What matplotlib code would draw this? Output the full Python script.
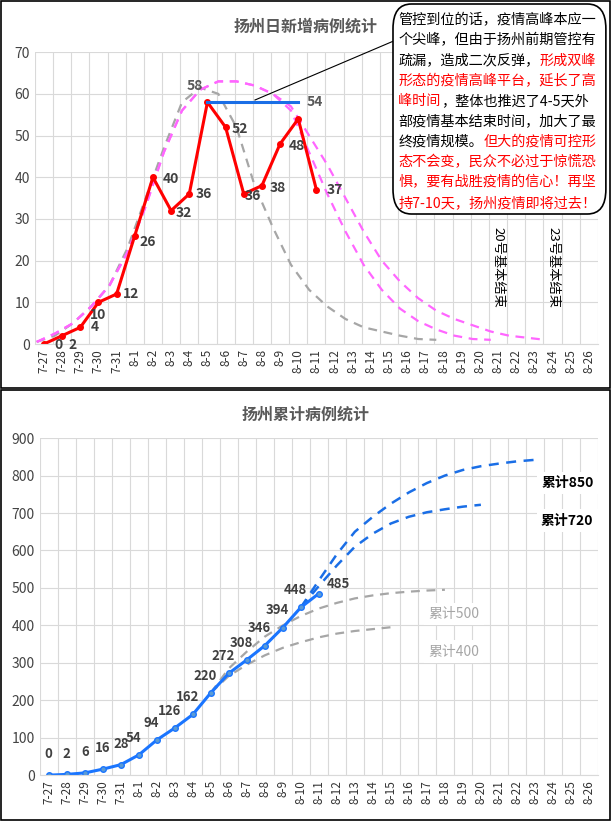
import matplotlib
matplotlib.use("Agg")
import matplotlib.pyplot as plt
from matplotlib.patches import Rectangle, FancyBboxPatch
import numpy as np

plt.rcParams['font.family'] = ['Noto Sans CJK SC', 'DejaVu Sans']

dates = ['7-27','7-28','7-29','7-30','7-31'] + [f'8-{i}' for i in range(1, 27)]
daily = [0,2,4,10,12,26,40,32,36,58,52,36,38,48,54,37]
cumul = [0,2,6,16,28,54,94,126,162,220,272,308,346,394,448,485]
gray_fit = [0.5,2,5,9,14,23,35,47,58,61.5,60,52,38,28,19,13,9,6,4,3,2,1.2,1]
pink_a = [0.5,2.5,5,9,14,22,33,46,56,61,63,63,62,60,56,46,36,27,19,13,8.5,5.5,3.5,2,1.2,1]
pink_b = [0.5,2.5,5,9,14,22,33,46,56,61,63,63,62,60,57,50,43,35,27,20,15,11,8,6,4.5,3,2,1.5,1]
proj850 = [448,520,590,650,690,725,755,780,800,815,825,832,838,842]
proj720 = [448,505,560,610,645,672,690,702,710,717,722]
proj500 = [220,285,330,370,400,425,445,460,472,480,486,490,493,495]
proj400 = [220,265,295,320,340,355,368,378,385,390,395]

fig = plt.figure(figsize=(6.12, 8.22), dpi=100)
fig.patches.append(Rectangle((0.002, 1-388/822), 0.995, 387/822, transform=fig.transFigure,
                             fill=False, ec='black', lw=1.2))
fig.patches.append(Rectangle((0.002, 0.002), 0.995, 430/822, transform=fig.transFigure,
                             fill=False, ec='black', lw=1.2))

def style(ax, ymax, step):
    x = np.arange(len(dates))
    ax.set_xlim(-0.5, len(dates) - 0.5)
    ax.set_ylim(0, ymax)
    ax.set_yticks(np.arange(0, ymax + 1, step))
    ax.set_xticks(x)
    ax.set_xticklabels(dates, rotation=90, fontsize=8.5, color='#333333')
    ax.set_xticks(np.arange(-0.5, len(dates)), minor=True)
    ax.tick_params(which='both', length=0)
    ax.tick_params(axis='y', labelsize=10, colors='#444444')
    ax.grid(which='minor', axis='x', color='#d9d9d9', lw=0.8)
    ax.grid(which='major', axis='y', color='#d9d9d9', lw=0.8)
    for s in ax.spines.values():
        s.set_visible(False)
    ax.spines['bottom'].set_visible(True)
    ax.spines['bottom'].set_color('#d9d9d9')

# ---------- top chart ----------
ax1 = fig.add_axes([0.057, 0.5815, 0.92, 0.355])
style(ax1, 70, 10)
ax1.plot(np.arange(len(gray_fit)) - 0.4, gray_fit, ls='--', color='#a6a6a6', lw=1.6, dashes=(4, 3))
ax1.plot(np.arange(len(pink_a)) - 0.4, pink_a, ls='--', color='#ff66ff', lw=1.6, dashes=(4, 3))
ax1.plot(np.arange(len(pink_b)) - 0.4, pink_b, ls='--', color='#ff66ff', lw=1.6, dashes=(4, 3))
xd = np.arange(len(daily))
ax1.plot(xd, daily, color='#ff0000', lw=2.2, marker='o', ms=4)
ax1.plot([9, 14], [58, 58], color='#1a6ee6', lw=2.2)
offs = {0: (0.8, -0.2), 1: (0.6, -2.2), 2: (0.8, 0), 3: (0.0, -3), 4: (0.8, 0), 5: (0.7, -1.5),
        6: (1.0, -0.5), 7: (0.7, -0.5), 8: (0.8, 0), 9: (-0.7, 4), 10: (0.8, -0.5), 11: (0.5, -0.5),
        12: (0.9, -0.5), 13: (0.9, -0.5), 14: (0.9, 4), 15: (1.0, 0)}
for i, v in enumerate(daily):
    dx, dy = offs[i]
    ax1.text(i + dx, v + dy, str(v), fontsize=10, fontweight='bold',
             color='#595959' if i in (9, 14) else '#404040', ha='center', va='center')
ax1.text(25.0, 28, '20号基本结束', rotation=270, fontsize=9.5, ha='center', va='top')
ax1.text(28.0, 28, '23号基本结束', rotation=270, fontsize=9.5, ha='center', va='top')
fig.text(0.5, 0.962, '扬州日新增病例统计', fontsize=11.5, fontweight='bold', color='#595959', ha='center')

# callout
box = FancyBboxPatch((393/612, 1-214/822), 0.995 - 393/612 - 0.005, (214-4)/822,
                     boxstyle='round,pad=0,rounding_size=0.03', transform=fig.transFigure,
                     fc='white', ec='black', lw=1.2, zorder=5)
fig.patches.append(box)
fig.lines.append(plt.Line2D([396/612, 255/612], [1-40/822, 1-100/822], transform=fig.transFigure,
                            color='black', lw=0.8))
lines = [
    [('管控到位的话，疫情高峰本应一', 'k')],
    [('个尖峰，但由于扬州前期管控有', 'k')],
    [('疏漏，造成二次反弹，', 'k'), ('形成双峰', 'r')],
    [('形态的疫情高峰平台，延长了高', 'r')],
    [('峰时间', 'r'), ('，整体也推迟了4-5天外', 'k')],
    [('部疫情基本结束时间，加大了最', 'k')],
    [('终疫情规模。', 'k'), ('但大的疫情可控形', 'r')],
    [('态不会变，民众不必过于惊慌恐', 'r')],
    [('惧，要有战胜疫情的信心！再坚', 'r')],
    [('持7-10天，扬州疫情即将过去！', 'r')],
]
fs = 10.2
wide = fs * 100 / 72 / 612   # width of a full-width char in figure fraction
y0 = 1 - 20/822
for li, segs in enumerate(lines):
    y = y0 - li * 20.3/822
    x = 400/612 - 0.003
    for s, c in segs:
        col = '#ff0000' if c == 'r' else 'black'
        fig.text(x, y, s, fontsize=fs, color=col, va='center', zorder=6)
        w = sum(wide * (0.55 if ord(ch) < 128 else 1.0) for ch in s)
        x += w

# ---------- bottom chart ----------
ax2 = fig.add_axes([0.065, 0.057, 0.912, 0.41])
style(ax2, 900, 100)
ax2.plot(np.arange(9, 9 + len(proj500)), proj500, ls='--', color='#a6a6a6', lw=1.6, dashes=(4, 3))
ax2.plot(np.arange(9, 9 + len(proj400)), proj400, ls='--', color='#a6a6a6', lw=1.6, dashes=(4, 3))
ax2.plot(np.arange(14, 14 + len(proj850)), proj850, ls='--', color='#1a6ee6', lw=1.8, dashes=(4, 3))
ax2.plot(np.arange(14, 14 + len(proj720)), proj720, ls='--', color='#1a6ee6', lw=1.8, dashes=(4, 3))
ax2.plot(xd, cumul, color='#1a75ff', lw=2.2, marker='o', ms=4, mfc='#5b9bd5')
for i, v in enumerate(cumul):
    if i < 5:
        ax2.text(i, v + 45, str(v), fontsize=9.5, fontweight='bold', color='#404040', ha='center')
    elif i == 15:
        ax2.text(i + 1.1, v + 15, str(v), fontsize=9.5, fontweight='bold', color='#404040', ha='center')
    else:
        ax2.text(i - 0.3, v + 35, str(v), fontsize=9.5, fontweight='bold', color='#404040', ha='center')
ax2.text(28.8, 780, '累计850', fontsize=10, fontweight='bold', ha='center', va='center',
         bbox=dict(fc='white', ec='none', pad=3))
ax2.text(28.8, 680, '累计720', fontsize=10, fontweight='bold', ha='center', va='center',
         bbox=dict(fc='white', ec='none', pad=3))
ax2.text(22.5, 430, '累计500', fontsize=10, color='#a6a6a6', ha='center', va='center',
         bbox=dict(fc='white', ec='none', pad=3))
ax2.text(22.5, 330, '累计400', fontsize=10, color='#a6a6a6', ha='center', va='center',
         bbox=dict(fc='white', ec='none', pad=3))
fig.text(0.5, 0.49, '扬州累计病例统计', fontsize=11.5, fontweight='bold', color='#595959', ha='center')

fig.savefig('out.png', dpi=100)
